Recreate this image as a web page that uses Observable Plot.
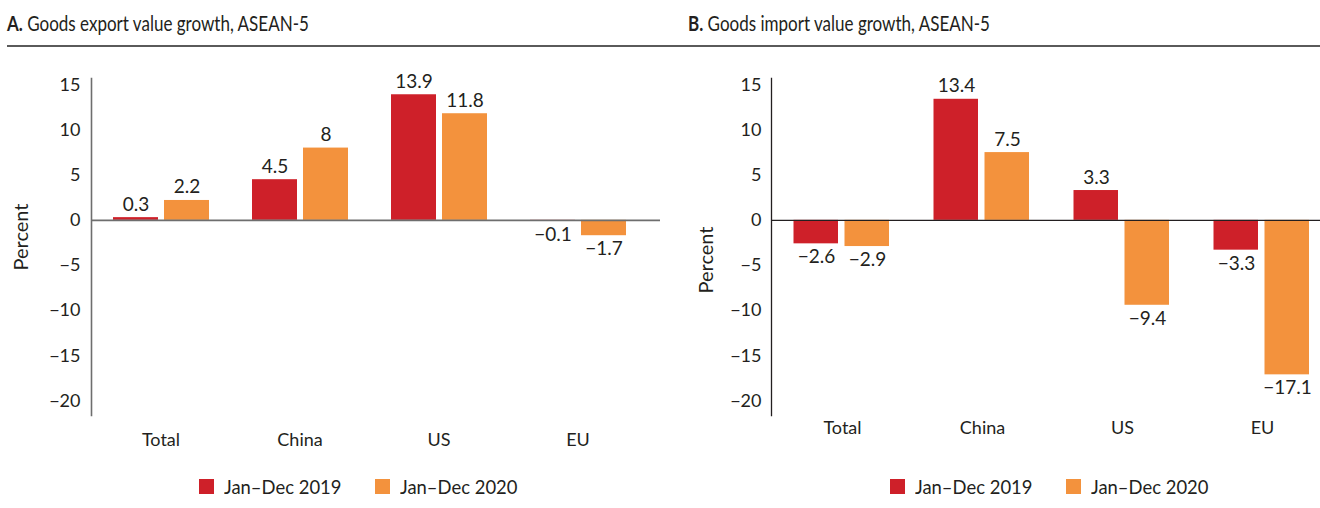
<!DOCTYPE html>
<html><head><meta charset="utf-8">
<script src="https://cdn.jsdelivr.net/npm/d3@7"></script>
<script src="https://cdn.jsdelivr.net/npm/@observablehq/plot@0.6"></script>
<style>
html,body{margin:0;padding:0;background:#fff;overflow:hidden;width:1320px;height:508px;}
body{position:relative;font-family:Lato, sans-serif;color:#231f20;}
.abs{position:absolute;white-space:nowrap;}
.title{font-size:20.5px;top:11px;line-height:24px;transform:scaleX(0.83);transform-origin:0 50%;}
.title b{font-weight:700;}
.rule{left:7px;top:45px;width:1313px;height:2px;background:#5a5a5a;}
.ylab{font-size:20px;transform:translate(-50%,-50%) rotate(-90deg);line-height:20px;}
.leg{font-size:19px;line-height:20px;top:477px;transform:scaleX(0.97);transform-origin:0 50%;}
.sw{width:15px;height:15px;top:479px;}
svg{max-width:none !important;}
</style></head>
<body>
<div class="abs title" style="left:7px"><b>A.</b> Goods export value growth, ASEAN-5</div>
<div class="abs title" style="left:688px"><b>B.</b> Goods import value growth, ASEAN-5</div>
<div class="abs rule"></div>
<div class="abs ylab" style="left:20px;top:237px">Percent</div>
<div class="abs ylab" style="left:705px;top:260px">Percent</div>
<div id="pa" class="abs" style="left:0;top:0"></div>
<div id="pb" class="abs" style="left:660px;top:0"></div>
<script>
const categories = ["Total", "China", "US", "EU"];
const seriesNames = ["Jan–Dec 2019", "Jan–Dec 2020"];
const exports2019 = [0.3, 4.5, 13.9, -0.1];
const exports2020 = [2.2, 8, 11.8, -1.7];
const imports2019 = [-2.6, 13.4, 3.3, -3.3];
const imports2020 = [-2.9, 7.5, -9.4, -17.1];
const yTicks = [-20, -15, -10, -5, 0, 5, 10, 15];
const seriesColors = ["#ce2029", "#f3923d"];

const fmt = v => v < 0 ? "\u2212" + Math.abs(v) : String(v);

function rowsFor(s0, s1) {
  const rows = [];
  categories.forEach((c, i) => {
    rows.push({cat: c, s: 0, series: seriesNames[0], value: s0[i]});
    rows.push({cat: c, s: 1, series: seriesNames[1], value: s1[i]});
  });
  return rows;
}

function panel(rows, cfg) {
  const marks = [];
  cfg.insets.forEach((ins, s) => {
    marks.push(Plot.barY(rows, {filter: d => d.s === s, x: "cat", y: "value", fill: "series",
      insetLeft: ins[0], insetRight: ins[1]}));
  });
  marks.push(Plot.ruleY([0], {stroke: cfg.lineColor, strokeWidth: cfg.lineWidth}));
  marks.push(Plot.frame({anchor: "left", stroke: cfg.lineColor, strokeWidth: cfg.lineWidth}));
  cfg.dx.forEach((dx, s) => {
    marks.push(Plot.text(rows, {filter: d => d.s === s && d.value >= 0, x: "cat", y: "value",
      text: d => fmt(d.value), dx, dy: -7, lineAnchor: "bottom", fontSize: 19, fill: "#231f20"}));
    marks.push(Plot.text(rows, {filter: d => d.s === s && d.value < 0, x: "cat", y: "value",
      text: d => fmt(d.value), dx, dy: 6, lineAnchor: "top", fontSize: 19, fill: "#231f20"}));
  });
  marks.push(Plot.axisY(yTicks, {tickSize: 0, tickPadding: cfg.yPad, tickFormat: fmt, label: null, fontSize: 18, fill: "#231f20"}));
  marks.push(Plot.axisX(categories, {tickSize: 0, tickPadding: cfg.xPad, label: null, fontSize: 18, fill: "#231f20"}));
  return Plot.plot({
    width: 660, height: 460,
    marginLeft: cfg.marginLeft, marginRight: 0, marginTop: 78, marginBottom: 45,
    style: {fontFamily: "Lato, sans-serif", fontSize: "18px", color: "#231f20", background: "transparent", overflow: "visible"},
    x: {domain: categories, range: cfg.xRange, padding: 0},
    y: {domain: [-21.6, 15.7]},
    color: {domain: seriesNames, range: seriesColors},
    marks
  });
}

document.getElementById("pa").append(panel(rowsFor(exports2019, exports2020), {
  marginLeft: 91, xRange: [91, 647], insets: [[22, 72], [73, 21]], dx: [-25, 26],
  lineColor: "#6e6e6e", lineWidth: 1.6, yPad: 11, xPad: 18
}));
document.getElementById("pb").append(panel(rowsFor(imports2019, imports2020), {
  marginLeft: 111, xRange: [111, 673], insets: [[21.5, 74], [72.5, 23]], dx: [-26, 25],
  lineColor: "#231f20", lineWidth: 1.3, yPad: 10, xPad: 6
}));

function legend(swX, txX) {
  seriesNames.forEach((name, i) => {
    const sw = document.createElement("div");
    sw.className = "abs sw";
    sw.style.left = swX[i] + "px";
    sw.style.background = seriesColors[i];
    document.body.append(sw);
    const t = document.createElement("div");
    t.className = "abs leg";
    t.style.left = txX[i] + "px";
    t.textContent = name;
    document.body.append(t);
  });
}
legend([199, 375], [224, 400]);
legend([890, 1066], [915, 1091]);
</script>
</body></html>
